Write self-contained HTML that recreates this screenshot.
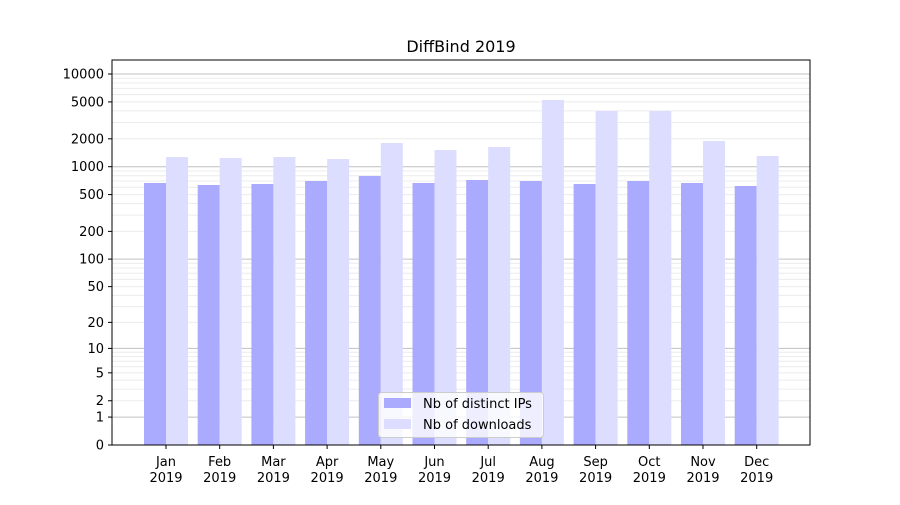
<!DOCTYPE html>
<html><head><style>
body{margin:0;background:#fff}
svg text{font-family:"DejaVu Sans","Liberation Sans",sans-serif;fill:#000}
</style></head><body>
<svg id="s" width="900" height="500" xmlns="http://www.w3.org/2000/svg">
<rect width="900" height="500" fill="#fff"/>
<g id="grid"></g>
<g id="bars"></g>
<rect x="112" y="60" width="698" height="385" fill="none" stroke="#000" stroke-width="1"/>
<g id="ticks"></g>
<text x="461" y="52" font-size="16" text-anchor="middle">DiffBind 2019</text>
<rect x="378.5" y="392.5" width="165" height="45" rx="3" fill="#fff" fill-opacity="0.8" stroke="#ccc"/>
<rect x="384" y="398" width="27" height="10" fill="#aaaaff"/>
<rect x="384" y="419" width="27" height="10" fill="#ddddff"/>
<text x="423" y="408" font-size="13">Nb of distinct IPs</text>
<text x="423" y="429" font-size="13">Nb of downloads</text>
</svg>
<script>
const NS="http://www.w3.org/2000/svg";
function el(p,t,a,txt){const e=document.createElementNS(NS,t);for(const k in a)e.setAttribute(k,a[k]);if(txt!==undefined)e.textContent=txt;document.getElementById(p).appendChild(e);}
const Y=v=>445-92.75*Math.log10(v+1);
for(let d=0;d<5;d++){const b=Math.pow(10,d);
 for(let m=1;m<10;m++){const v=b*m;const y=Y(v);if(y<60)continue;
  el("grid","line",{x1:112,x2:810,y1:y,y2:y,stroke:m==1?"#c0c0c0":"#ececec","stroke-width":1});}}
const labs=[0,1,2,5,10,20,50,100,200,500,1000,2000,5000,10000];
labs.forEach(v=>{const y=Y(v);el("ticks","line",{x1:108,x2:112,y1:y,y2:y,stroke:"#000"});
 el("ticks","text",{x:104,y:y+4.5,"font-size":13,"text-anchor":"end"},String(v));});
const dark=[183,185,184,181,176,183,180,181,184,181,183,186];
const light=[157,158,157,159,143,150,147,100,111,111,141,156];
const mon=["Jan","Feb","Mar","Apr","May","Jun","Jul","Aug","Sep","Oct","Nov","Dec"];
for(let i=0;i<12;i++){const c=166+i*53.7;
 el("bars","rect",{x:c-22,y:dark[i],width:22,height:445-dark[i],fill:"#aaaaff"});
 el("bars","rect",{x:c,y:light[i],width:22,height:445-light[i],fill:"#ddddff"});
 el("ticks","line",{x1:c,x2:c,y1:445,y2:449,stroke:"#000"});
 el("ticks","text",{x:c,y:466,"font-size":13,"text-anchor":"middle"},mon[i]);
 el("ticks","text",{x:c,y:482,"font-size":13,"text-anchor":"middle"},"2019");}
</script>
</body></html>
